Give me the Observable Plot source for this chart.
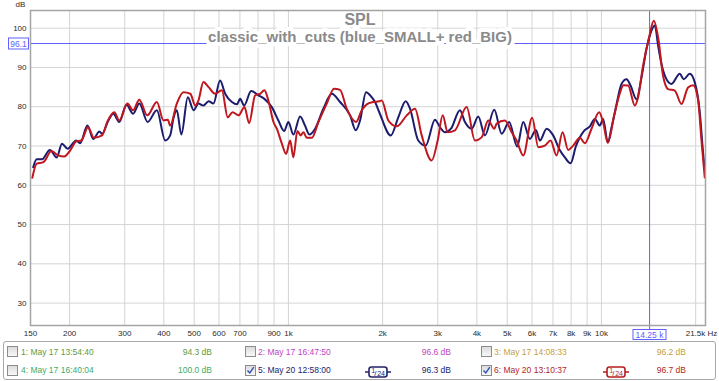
<!DOCTYPE html>
<html><head><meta charset="utf-8">
<script src="https://cdn.jsdelivr.net/npm/d3@7"></script>
<script src="https://cdn.jsdelivr.net/npm/@observablehq/plot@0.6"></script>
<style>
body{margin:0;background:#fff;font-family:"Liberation Sans",Arial,sans-serif;}
#wrap{position:relative;width:719px;height:381px;overflow:hidden;background:#fff}
#chart{position:absolute;left:0;top:0}
#legend{position:absolute;left:3px;top:341px;width:711px;height:37px;border:1px solid #a8a8a8;border-radius:3px;box-sizing:content-box}
.it{position:absolute;font-size:8.5px;line-height:10px;white-space:nowrap}
.cb{position:absolute;width:9px;height:9px;border:1px solid #8c8c8c;background:linear-gradient(#dcdcdc,#f8f8f8)}
</style></head><body><div id="wrap"><div id="chart"></div><div id="legend"></div></div>
<script>
// ---- data ----
const blueFreq = [153,157,163,173,182,189,197,210,216,228,238,249,254,266,276,288,304,319,334,355,380,404,419,430,440,455,477,498,516,535,556,576,605,628,660,685,701,722,760,802,838,885,929,969,1000,1037,1090,1130,1167,1217,1293,1376,1462,1574,1641,1694,1770,1846,1891,1951,2123,2244,2370,2446,2599,2744,2939,3049,3163,3306,3532,3664,3850,4041,4245,4546,4803,5071,5381,5625,5908,6174,6360,6680,7012,7366,7642,7969,8285,8786,9183,9526,9883,10125,10480,10770,11120,11590,12030,12390,12940,13430,13930,14450,14810,15170,15550,15940,16740,17790,18320,19150,19870,20620,21120,21380];
const blueDb = [64.6,66.6,66.6,69.0,67.1,70.6,69.3,71.4,70.7,75.2,71.8,73.7,73.1,76.5,78.2,76.1,80.5,78.2,80.8,76.1,79.1,71.4,72.7,77.3,79.1,72.9,82.4,79.1,80.8,80.3,81.4,80.8,86.7,83.3,81.2,80.6,82.0,80.3,84.0,82.9,82.0,79.9,76.5,73.8,76.1,72.9,77.5,75.2,72.9,74.4,79.5,83.3,81.2,77.8,74.0,76.5,83.7,82.4,81.2,78.6,72.7,77.3,81.4,79.5,71.4,70.1,76.7,74.8,73.5,74.4,79.1,76.1,74.4,77.5,72.7,79.2,73.1,76.1,69.9,76.1,71.8,74.1,71.4,74.4,72.7,68.9,67.1,65.6,69.9,73.8,75.0,76.9,75.2,76.9,70.9,74.7,79.8,85.8,87.0,85.4,81.9,87.5,94.7,99.4,100.7,95.6,90.9,87.9,85.8,88.4,87.0,88.4,86.2,78.5,68.3,64.0];
const redFreq = [152,157,165,175,184,192,201,210,218,229,239,254,264,278,288,306,319,334,354,380,399,412,419,440,462,486,504,516,535,556,583,613,640,663,693,724,749,783,812,838,863,896,918,953,983,1013,1037,1068,1095,1117,1145,1188,1247,1326,1399,1462,1536,1645,1715,1779,1867,1951,1987,2086,2218,2388,2538,2666,2869,2998,3111,3227,3405,3710,3944,4143,4350,4546,4627,4917,5167,5358,5625,6009,6281,6596,6879,7189,7513,7829,8123,8533,8851,9298,9833,10125,10480,10978,11389,11763,12170,12785,13095,13586,14199,14700,15170,15736,16327,17150,18020,18910,19620,20350,20860,21380];
const redDb = [61.9,65.5,65.9,68.7,67.6,67.3,68.9,71.2,71.4,74.8,72.1,72.7,76.2,78.6,76.5,80.8,79.1,81.8,77.8,81.2,76.5,76.7,75.2,80.8,83.7,83.3,80.3,81.6,86.3,85.0,83.3,84.2,77.3,78.6,77.8,79.9,75.8,82.9,83.3,84.2,81.6,76.1,74.4,70.6,68.0,71.4,67.1,73.8,72.7,73.5,72.1,72.1,76.1,80.8,84.6,84.3,79.5,76.1,79.1,80.6,81.2,81.4,81.6,76.5,75.0,77.8,79.5,72.7,66.3,71.4,77.8,73.5,74.0,79.9,71.4,72.2,76.5,74.4,75.7,76.5,73.5,71.4,67.6,77.2,69.7,70.1,71.4,67.6,73.5,69.0,70.1,72.1,70.7,74.4,78.6,76.0,70.8,77.7,82.8,85.5,85.4,80.3,82.4,90.5,97.7,101.9,97.7,87.9,84.5,84.1,80.7,84.9,85.5,81.9,71.7,62.0];
const xTicks = [150,200,300,400,500,600,700,900,1000,2000,3000,4000,5000,6000,7000,8000,9000,10000];
const xTickLabels = ["150","200","300","400","500","600","700","900","1k","2k","3k","4k","5k","6k","7k","8k","9k","10k"];
const xGrid = [200,300,400,500,600,700,800,900,1000,2000,3000,4000,5000,6000,7000,8000,9000,10000,20000];
const xEnd = 21500, xEndLabel = "21.5k Hz";
const yTicks = [30,40,50,60,70,80,90,100];
const yUnit = "dB";
const cursorFreq = 14250, cursorFreqLabel = "14.25 k";
const cursorDb = 96.1, cursorDbLabel = "96.1";
const title = "SPL";
const subtitle = "classic_with_cuts (blue_SMALL+ red_BIG)";
const legendLabels = ["1: May 17 13:54:40","2: May 17 16:47:50","3: May 17 14:08:33","4: May 17 16:40:04","5: May 20 12:58:00","6: May 20 13:10:37"];
const legendLevels = ["94.3 dB","96.6 dB","96.2 dB","100.0 dB","96.3 dB","96.7 dB"];
const legendColors = ["#5f9a3c","#c044c0","#c4a040","#3caa68","#22226e","#b41e22"];
const legendChecked = [false,false,false,false,true,true];
const legendSmoothing = ["","","","","1/24","1/24"];

// ---- chart ----
const blue = blueFreq.map((f,i)=>({f, db: blueDb[i]}));
const red = redFreq.map((f,i)=>({f, db: redDb[i]}));
const labelMap = new Map(xTicks.map((d,i)=>[d, xTickLabels[i]]));
const cursorBlue = "#6060ff";
const tickColor = "#2a2a2a";

function cursorLabels(index, scales, values, dims) {
  const g = d3.create("svg:g").attr("font-size", 8.5).attr("fill", cursorBlue);
  const cy = scales.y(cursorDb), cx = scales.x(cursorFreq);
  const L = dims.marginLeft, B = dims.height - dims.marginBottom;
  g.append("rect").attr("x", L-21.5).attr("y", Math.round(cy)-5).attr("width", 20).attr("height", 11)
    .attr("fill", "white").attr("stroke", cursorBlue).attr("stroke-width", 1);
  g.append("text").attr("x", L-11.5).attr("y", Math.round(cy)+3.5).attr("text-anchor","middle").text(cursorDbLabel);
  g.append("rect").attr("x", Math.round(cx)-16).attr("y", B+4.5).attr("width", 33).attr("height", 10)
    .attr("fill", "white").attr("stroke", cursorBlue).attr("stroke-width", 1);
  g.append("text").attr("x", Math.round(cx)+0.5).attr("y", B+12.5).attr("text-anchor","middle").text(cursorFreqLabel);
  return g.node();
}

const chart = Plot.plot({
  width: 719, height: 340,
  marginLeft: 30, marginRight: 14, marginTop: 10, marginBottom: 15,
  x: {type: "log", domain: [150, xEnd], axis: null},
  y: {domain: [24.3, 104.5], axis: null},
  style: {fontFamily: "Liberation Sans, Arial, sans-serif", fontSize: "8px", color: "#222", background: "white", overflow: "visible"},
  marks: [
    Plot.gridX(xGrid, {stroke: "#d4d4d4", strokeOpacity: 1}),
    Plot.gridY(yTicks, {stroke: "#d4d4d4", strokeOpacity: 1}),
    Plot.text(xTicks, {x: d => d, text: d => labelMap.get(d), frameAnchor: "bottom", lineAnchor: "top", dy: 5, fill: tickColor, fontSize: 8}),
    Plot.text(yTicks, {y: d => d, text: d => String(d), frameAnchor: "left", textAnchor: "end", dx: -4, fill: tickColor, fontSize: 8}),
    Plot.text([xEnd], {x: d => d, frameAnchor: "bottom", lineAnchor: "top", dy: 5, dx: -4, text: () => xEndLabel, fill: tickColor, fontSize: 8}),
    Plot.text([yUnit], {frameAnchor: "top-left", lineAnchor: "top", textAnchor: "start", dx: -15, dy: -9, fill: tickColor, fontSize: 8}),
    Plot.ruleY([cursorDb], {stroke: cursorBlue, strokeWidth: 1, strokeOpacity: 1}),
    Plot.ruleX([cursorFreq], {stroke: cursorBlue, strokeWidth: 1, strokeOpacity: 1, insetBottom: -4}),
    Plot.text([title], {frameAnchor: "top", lineAnchor: "top", dx: -8, dy: 3, fontSize: 16, fontWeight: "bold", fill: "#8a8a8a"}),
    Plot.text([subtitle], {frameAnchor: "top", lineAnchor: "top", dx: -8, dy: 21, fontSize: 15, fontWeight: "bold", fill: "#8a8a8a", stroke: "white", strokeWidth: 8}),
    Plot.line(blue, {x: "f", y: "db", stroke: "#1c1c6e", strokeWidth: 2, curve: "monotone-x"}),
    Plot.line(red, {x: "f", y: "db", stroke: "#c0161e", strokeWidth: 2, curve: "monotone-x"}),
    Plot.frame({stroke: "#a4a4a4", strokeWidth: 1.5}),
    cursorLabels
  ]
});
document.getElementById("chart").appendChild(chart);

// ---- legend ----
const wrap = document.getElementById("wrap");
const colCb = [7, 245, 481], colText = [21, 258, 494], colVal = [212, 451, 686], colIcon = [365, 365, 603];
const rowY = [351.5, 370];
legendLabels.forEach((lab, i) => {
  const r = Math.floor(i/3), c = i % 3, col = legendColors[i];
  const cb = document.createElement("div");
  cb.className = "cb";
  cb.style.left = colCb[c] + "px"; cb.style.top = (rowY[r]-5.5) + "px";
  if (legendChecked[i]) {
    cb.innerHTML = '<svg width="9" height="9" style="position:absolute;left:0;top:0"><path d="M1.5,4.5 L3.8,7 L7.8,1.2" fill="none" stroke="#3050b0" stroke-width="1.4"/></svg>';
  }
  wrap.appendChild(cb);
  const t = document.createElement("div");
  t.className = "it"; t.textContent = lab; t.style.color = col;
  t.style.left = colText[c] + "px"; t.style.top = (rowY[r]-5) + "px";
  wrap.appendChild(t);
  const v = document.createElement("div");
  v.className = "it"; v.textContent = legendLevels[i]; v.style.color = col;
  v.style.right = (719 - colVal[c]) + "px"; v.style.top = (rowY[r]-5) + "px";
  wrap.appendChild(v);
  if (legendSmoothing[i]) {
    const [a, b] = legendSmoothing[i].split("/");
    const ic = document.createElement("div");
    ic.style.position = "absolute"; ic.style.left = colIcon[c] + "px"; ic.style.top = (rowY[r]-6) + "px";
    ic.innerHTML = `<svg width="26" height="12"><line x1="0" y1="6" x2="26" y2="6" stroke="${col}" stroke-width="1.5"/><rect x="4" y="1" width="18" height="10" rx="2.5" fill="white" stroke="${col}" stroke-width="1.6"/><text font-family="Liberation Sans, Arial" fill="${col}"><tspan x="6.5" y="6.5" font-size="6.5">${a}</tspan><tspan x="9.3" y="9.5" font-size="8">/</tspan><tspan x="12.2" y="10" font-size="7">${b}</tspan></text></svg>`;
    wrap.appendChild(ic);
  }
});
</script></body></html>
